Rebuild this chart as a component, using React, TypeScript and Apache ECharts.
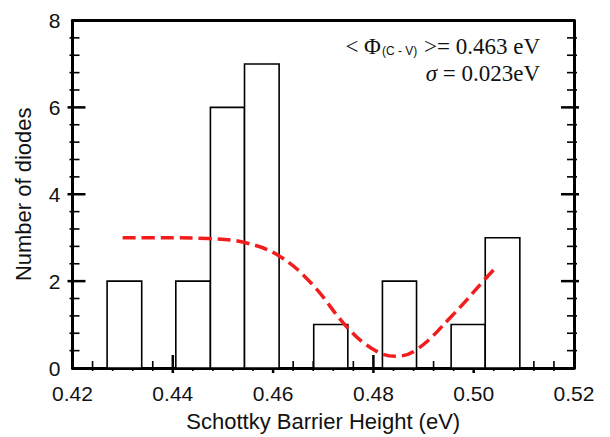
import React, { useEffect, useRef } from "react";
import * as echarts from "echarts";

// Histogram bins (Schottky barrier height, eV)
const binLo = [0.4269, 0.4406, 0.4475, 0.4543, 0.4681, 0.4818, 0.4955, 0.5023];
const binHi = [0.4338, 0.4475, 0.4543, 0.4612, 0.4749, 0.4886, 0.5023, 0.5092];
const counts = [2, 2, 6, 7, 1, 2, 1, 3];

// Red dashed fit curve
const curveX = [0.43, 0.438, 0.447, 0.4543, 0.4612, 0.4677, 0.4749, 0.4801, 0.4844, 0.4886, 0.4955, 0.5023, 0.5048];
const curveY = [3.0, 3.0, 2.98, 2.89, 2.58, 1.94, 0.92, 0.42, 0.27, 0.42, 1.18, 2.05, 2.36];

// Tick labels and tick positions
const xTicks = ["0.42", "0.44", "0.46", "0.48", "0.50", "0.52"];
const xMajorTicks = [0.44, 0.46, 0.48, 0.5];
const xMinorTicks = [
  0.424, 0.428, 0.432, 0.436, 0.444, 0.448, 0.452, 0.456, 0.464, 0.468,
  0.472, 0.476, 0.484, 0.488, 0.492, 0.496, 0.504, 0.508, 0.512, 0.516,
];
const yMajorTicks = [2, 4, 6];
const yMinorTicks = [
  0.4, 0.8, 1.2, 1.6, 2.4, 2.8, 3.2, 3.6, 4.4, 4.8, 5.2, 5.6, 6.4, 6.8, 7.2, 7.6,
];

const X_MIN = 0.42;
const X_MAX = 0.52;

export default function App() {
  const ref = useRef<HTMLDivElement>(null);
  useEffect(() => {
    if (!ref.current) return;
    const chart = echarts.init(ref.current, null, { renderer: "svg" });
    const histData = counts.map((c, i) => [binLo[i], binHi[i], c]);
    const curveData = curveX.map((x, i) => [x, curveY[i]]);
    const tickSeries = (data: number[][], size: number[], offset: number[]) => ({
      type: "scatter",
      xAxisIndex: 0,
      yAxisIndex: 0,
      data,
      symbol: "rect",
      symbolSize: size,
      symbolOffset: offset,
      clip: false,
      silent: true,
      z: 1,
      itemStyle: { color: "#000000", opacity: 1 },
      emphasis: { disabled: true },
    });
    chart.setOption({
      animation: false,
      backgroundColor: "#ffffff",
      textStyle: { fontFamily: "Liberation Sans" },
      grid: { left: 72.5, right: 36, top: 20.5, bottom: 65.5 },
      tooltip: { show: false },
      xAxis: [
        {
          type: "value",
          min: X_MIN,
          max: X_MAX,
          interval: 0.02,
          position: "bottom",
          name: "Schottky Barrier Height (eV)",
          nameLocation: "middle",
          nameGap: 42,
          nameTextStyle: { fontSize: 22, color: "#111" },
          axisLine: { show: true, onZero: false, lineStyle: { color: "#000", width: 3 } },
          axisTick: { show: false },
          axisLabel: {
            fontSize: 21,
            color: "#111",
            margin: 15,
            formatter: (v: number) => {
              const idx = Math.round((v - X_MIN) / 0.02);
              return xTicks[idx] ?? "";
            },
          },
          splitLine: { show: false },
        },
        {
          type: "value",
          min: X_MIN,
          max: X_MAX,
          interval: 0.02,
          position: "top",
          axisLine: { show: true, onZero: false, lineStyle: { color: "#000", width: 3 } },
          axisTick: { show: false },
          axisLabel: { show: false },
          splitLine: { show: false },
        },
      ],
      yAxis: [
        {
          type: "value",
          min: 0,
          max: 8,
          interval: 2,
          position: "left",
          name: "Number of diodes",
          nameLocation: "middle",
          nameGap: 38,
          nameTextStyle: { fontSize: 22, color: "#111" },
          axisLine: { show: true, onZero: false, lineStyle: { color: "#000", width: 3 } },
          axisTick: { show: false },
          axisLabel: { fontSize: 21, color: "#111", margin: 12 },
          splitLine: { show: false },
        },
        {
          type: "value",
          min: 0,
          max: 8,
          interval: 2,
          position: "right",
          axisLine: { show: true, onZero: false, lineStyle: { color: "#000", width: 3 } },
          axisTick: { show: false },
          axisLabel: { show: false },
          splitLine: { show: false },
        },
      ],
      series: [
        tickSeries(xMajorTicks.map((v) => [v, 0]), [2.5, 18], [0, -4]),
        tickSeries(xMinorTicks.map((v) => [v, 0]), [1.6, 10], [0, -2]),
        tickSeries(yMajorTicks.map((v) => [X_MIN, v]), [18, 2.5], [4, 0]),
        tickSeries(yMinorTicks.map((v) => [X_MIN, v]), [10, 1.6], [2, 0]),
        tickSeries(yMajorTicks.map((v) => [X_MAX, v]), [18, 2.5], [-4, 0]),
        tickSeries(yMinorTicks.map((v) => [X_MAX, v]), [10, 1.6], [-2, 0]),
        {
          type: "custom",
          name: "hist",
          xAxisIndex: 0,
          yAxisIndex: 0,
          data: histData,
          z: 2,
          renderItem: (params: any, api: any) => {
            const lo = api.value(0);
            const hi = api.value(1);
            const c = api.value(2);
            const p0 = api.coord([lo, c]);
            const p1 = api.coord([hi, 0]);
            return {
              type: "rect",
              shape: { x: p0[0], y: p0[1], width: p1[0] - p0[0], height: p1[1] - p0[1] },
              style: { fill: "#ffffff", stroke: "#000", lineWidth: 1.6 },
            };
          },
          encode: { x: [0, 1], y: 2 },
        },
        {
          type: "line",
          xAxisIndex: 0,
          yAxisIndex: 0,
          data: curveData,
          smooth: 0.4,
          symbol: "none",
          z: 3,
          lineStyle: { color: "#f21c1c", width: 3.5, type: [13, 6] },
        },
      ],
      graphic: [
        {
          type: "text",
          x: 540,
          y: 45,
          z: 10,
          style: {
            text: "{a|< Φ}{s|(C - V)}{a| >= 0.463 eV}",
            align: "right",
            verticalAlign: "middle",
            rich: {
              a: { fontFamily: "Liberation Serif", fontSize: 23, fill: "#111", verticalAlign: "bottom", lineHeight: 26 },
              s: { fontFamily: "Liberation Sans", fontSize: 12, fill: "#111", verticalAlign: "bottom", lineHeight: 26, padding: [0, 1, 1, 1] },
            },
          },
        },
        {
          type: "text",
          x: 540,
          y: 73,
          z: 10,
          style: {
            text: "{i|σ}{a| = 0.023eV}",
            align: "right",
            verticalAlign: "middle",
            rich: {
              i: { fontFamily: "Liberation Serif", fontStyle: "italic", fontSize: 23, fill: "#111" },
              a: { fontFamily: "Liberation Serif", fontSize: 23, fill: "#111" },
            },
          },
        },
      ],
    });
    return () => chart.dispose();
  }, []);
  return <div ref={ref} style={{ width: 610, height: 437, position: "absolute", left: 0, top: 0 }} />;
}
